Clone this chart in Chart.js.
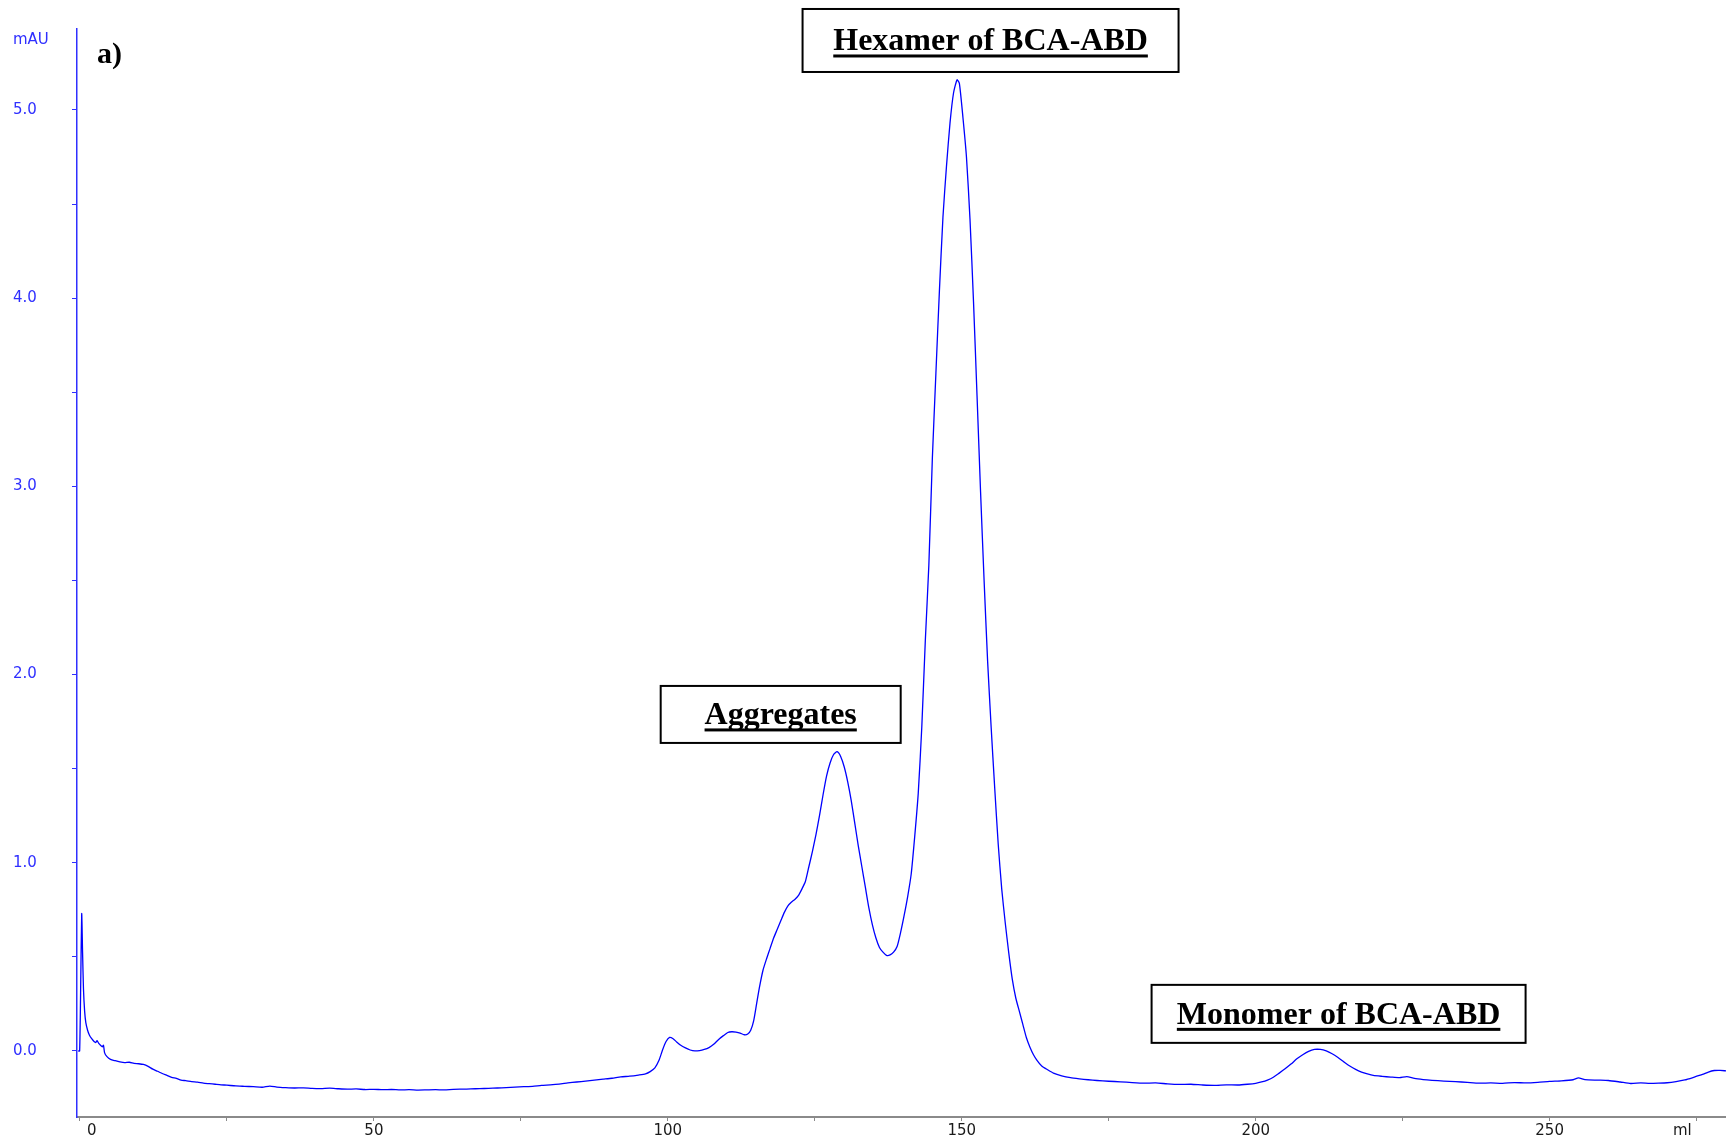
<!DOCTYPE html>
<html>
<head>
<meta charset="utf-8">
<title>Cromatograma BCA-ABD</title>
<script src="https://cdn.jsdelivr.net/npm/chart.js@4.4.1/dist/chart.umd.min.js"></script>
<style>
    html, body { margin: 0; padding: 0; background: #ffffff; }
    canvas { display: block; }
</style>
</head>
<body>
<canvas id="chromatogram" width="1726" height="1143"></canvas>
<script>
// Chromatogram a) - size exclusion run of BCA-ABD

// Elution volume (ml)
const volumeMl = [
    -0.3, -0.05, 0.15, 0.3, 0.45, 0.6, 0.8, 1.0, 1.3, 1.6,
    2.0, 2.4, 2.7, 2.9, 3.2, 3.5, 3.8, 4.0, 4.2, 4.6,
    5.2, 6.0, 6.8, 7.6, 8.4, 9.2, 10.0, 10.8, 11.6, 12.4,
    13.2, 14.0, 14.8, 15.6, 16.4, 17.2, 18.0, 19.0, 20.0, 21.0,
    22.0, 23.0, 24.0, 25.0, 26.5, 28.0, 29.5, 31.0, 32.3, 33.5,
    35.0, 36.5, 38.0, 39.5, 41.0, 42.5, 44.0, 45.5, 47.0, 48.5,
    50.0, 51.5, 53.0, 54.5, 56.0, 57.5, 59.0, 60.5, 62.0, 63.5,
    65.0, 66.5, 68.0, 69.5, 71.0, 72.5, 74.0, 75.5, 77.0, 78.5,
    80.0, 81.5, 83.0, 84.5, 86.0, 87.5, 89.0, 90.5, 92.0, 93.5,
    95.0, 96.2, 97.0, 97.8, 98.5, 99.1, 99.7, 100.3, 100.9, 101.5,
    102.2, 103.0, 103.8, 104.6, 105.4, 106.2, 107.0, 107.8, 108.6, 109.4,
    110.2, 110.9, 111.6, 112.3, 113.0, 113.6, 114.1, 114.6, 115.1, 115.6,
    116.2, 116.8, 117.4, 118.0, 118.6, 119.2, 119.8, 120.4, 121.0, 121.6,
    122.2, 122.8, 123.4, 124.0, 124.6, 125.2, 125.8, 126.4, 127.0, 127.6,
    128.2, 128.8, 129.4, 130.0, 130.6, 131.2, 131.8, 132.4, 133.0, 133.6,
    134.2, 134.8, 135.4, 136.0, 136.6, 137.2, 137.8, 138.4, 139.0, 139.6,
    140.2, 140.8, 141.4, 142.0, 142.6, 143.2, 143.8, 144.4, 145.0, 145.6,
    146.2, 146.8, 147.4, 148.0, 148.6, 149.2, 149.6, 150.2, 150.8, 151.4,
    152.0, 152.6, 153.2, 153.8, 154.4, 155.0, 155.6, 156.2, 156.8, 157.4,
    158.0, 158.6, 159.2, 159.8, 160.4, 161.0, 161.6, 162.2, 162.8, 163.6,
    164.6, 165.6, 167.0, 168.5, 170.0, 171.5, 173.0, 175.0, 177.0, 179.0,
    181.0, 183.0, 185.0, 187.0, 189.0, 191.0, 193.0, 195.0, 197.0, 198.6,
    200.0, 201.0, 202.0, 203.0, 204.0, 205.0, 206.0, 207.0, 208.0, 209.0,
    210.0, 211.0, 212.0, 213.0, 214.0, 215.0, 216.0, 217.0, 218.0, 219.0,
    220.0, 221.5, 223.0, 224.5, 225.7, 227.0, 228.5, 230.0, 232.0, 234.0,
    236.0, 238.0, 240.0, 242.0, 244.0, 246.0, 248.0, 250.0, 252.0, 254.0,
    254.9, 256.0, 258.0, 260.0, 262.0, 263.8, 265.5, 267.0, 268.5, 270.0,
    271.5, 273.0, 274.5, 276.0, 277.0, 278.0, 279.0, 280.0
];

// UV absorbance (mAU)
const absorbanceMau = [
    0.0, 0.0, 0.40, 0.73, 0.52, 0.33, 0.21, 0.15, 0.11, 0.085,
    0.065, 0.05, 0.045, 0.055, 0.04, 0.03, 0.022, 0.03, -0.01, -0.03,
    -0.045, -0.052, -0.058, -0.062, -0.06, -0.066, -0.068, -0.072, -0.082, -0.097,
    -0.108, -0.12, -0.13, -0.14, -0.146, -0.155, -0.158, -0.163, -0.166, -0.171,
    -0.174, -0.177, -0.18, -0.182, -0.186, -0.188, -0.19, -0.193, -0.187, -0.192,
    -0.195, -0.197, -0.196, -0.199, -0.2, -0.198, -0.201, -0.203, -0.202, -0.205,
    -0.204, -0.206, -0.205, -0.207, -0.206, -0.208, -0.207, -0.206, -0.207, -0.204,
    -0.203, -0.202, -0.2, -0.199, -0.197, -0.195, -0.192, -0.19, -0.188, -0.183,
    -0.18, -0.176, -0.17, -0.165, -0.16, -0.155, -0.15, -0.145, -0.138, -0.134,
    -0.128, -0.122, -0.11, -0.09, -0.05, 0.005, 0.05, 0.072, 0.065, 0.048,
    0.03, 0.016, 0.005, 0.0, 0.002, 0.008, 0.018, 0.035, 0.06, 0.08,
    0.098, 0.102, 0.1, 0.095, 0.086, 0.09, 0.11, 0.16, 0.25, 0.34,
    0.43, 0.49, 0.545, 0.6, 0.645, 0.69, 0.735, 0.77, 0.79, 0.805,
    0.825, 0.86, 0.9, 0.98, 1.06, 1.15, 1.25, 1.36, 1.46, 1.53,
    1.575, 1.59, 1.565, 1.51, 1.43, 1.33, 1.21, 1.09, 0.98, 0.87,
    0.76, 0.67, 0.6, 0.55, 0.525, 0.508, 0.51, 0.525, 0.555, 0.63,
    0.72, 0.82, 0.94, 1.14, 1.37, 1.72, 2.18, 2.58, 3.15, 3.6,
    4.04, 4.43, 4.7, 4.93, 5.09, 5.16, 5.14, 4.96, 4.75, 4.42,
    3.98, 3.48, 2.97, 2.5, 2.07, 1.72, 1.4, 1.1, 0.86, 0.68,
    0.52, 0.38, 0.28, 0.21, 0.14, 0.07, 0.02, -0.02, -0.05, -0.08,
    -0.1, -0.118, -0.132, -0.142, -0.148, -0.153, -0.157, -0.161, -0.164, -0.168,
    -0.171, -0.17, -0.175, -0.178, -0.177, -0.181, -0.183, -0.18, -0.181, -0.177,
    -0.172, -0.165, -0.155, -0.14, -0.118, -0.095, -0.07, -0.042, -0.02, -0.002,
    0.008, 0.008, 0.0, -0.015, -0.035, -0.058, -0.08, -0.098, -0.112, -0.122,
    -0.13, -0.135, -0.139, -0.142, -0.136, -0.146, -0.152, -0.156, -0.16, -0.163,
    -0.167, -0.171, -0.17, -0.172, -0.168, -0.17, -0.167, -0.162, -0.159, -0.153,
    -0.143, -0.152, -0.155, -0.157, -0.165, -0.173, -0.17, -0.172, -0.171, -0.169,
    -0.163, -0.154, -0.14, -0.125, -0.112, -0.104, -0.103, -0.106
];

// Peak labels (anchored in ml / mAU)
const peakLabels = [
    { text: 'Hexamer of BCA-ABD', x: 154.9, y: 5.369, w: 376, h: 63 },
    { text: 'Aggregates', x: 119.2, y: 1.788, w: 240, h: 57 },
    { text: 'Monomer of BCA-ABD', x: 214.1, y: 0.197, w: 374, h: 58 }
];

const panelLetter = { text: 'a)', x: 2.9, y: 5.25 };

const blueAxis = '#2f2fff';
const grayAxis = '#8a8a8a';
const tickFont = { family: '"DejaVu Sans", Verdana, sans-serif', size: 15 };

// Textos extras: unidade do eixo y, letra do painel e caixas dos picos
const annotationPlugin = {
    id: 'annotations',
    afterDraw(chart) {
        const ctx = chart.ctx;
        const xs = chart.scales.x;
        const ys = chart.scales.y;
        ctx.save();

        // unidade mAU no topo do eixo y
        ctx.fillStyle = blueAxis;
        ctx.font = '15px "DejaVu Sans", Verdana, sans-serif';
        ctx.textAlign = 'left';
        ctx.textBaseline = 'middle';
        ctx.fillText('mAU', ys.left, chart.chartArea.top + 11);

        // letra do painel
        ctx.fillStyle = '#000';
        ctx.font = 'bold 30px "Liberation Serif", "Times New Roman", serif';
        ctx.textBaseline = 'alphabetic';
        ctx.fillText(panelLetter.text, xs.getPixelForValue(panelLetter.x), ys.getPixelForValue(panelLetter.y));

        // caixas com texto sublinhado
        ctx.font = 'bold 32px "Liberation Serif", "Times New Roman", serif';
        ctx.textAlign = 'center';
        peakLabels.forEach(label => {
            const cx = xs.getPixelForValue(label.x);
            const cy = ys.getPixelForValue(label.y);
            ctx.fillStyle = '#fff';
            ctx.fillRect(cx - label.w / 2, cy - label.h / 2, label.w, label.h);
            ctx.strokeStyle = '#000';
            ctx.lineWidth = 2;
            ctx.strokeRect(cx - label.w / 2, cy - label.h / 2, label.w, label.h);

            const baseline = cy + 10;
            ctx.fillStyle = '#000';
            ctx.fillText(label.text, cx, baseline);
            const tw = ctx.measureText(label.text).width;
            ctx.fillRect(cx - tw / 2, baseline + 4, tw, 3);
        });

        ctx.restore();
    }
};

const ctx = document.getElementById('chromatogram').getContext('2d');

new Chart(ctx, {
    type: 'line',
    data: {
        datasets: [{
            label: 'UV',
            data: volumeMl.map((v, i) => ({ x: v, y: absorbanceMau[i] })),
            borderColor: '#0000ff',
            borderWidth: 1.3,
            pointRadius: 0,
            tension: 0.2,
            fill: false
        }]
    },
    options: {
        responsive: false,
        animation: false,
        layout: {
            padding: { left: 13, top: 29, right: 0, bottom: 0 }
        },
        plugins: {
            legend: { display: false },
            tooltip: { enabled: false }
        },
        scales: {
            x: {
                type: 'linear',
                min: -0.5,
                max: 280,
                afterFit: scale => { scale.height = 26; },
                border: { color: grayAxis, width: 2 },
                grid: {
                    drawOnChartArea: false,
                    drawTicks: true,
                    tickLength: 4,
                    tickColor: grayAxis
                },
                ticks: {
                    stepSize: 25,
                    includeBounds: false,
                    autoSkip: false,
                    maxRotation: 0,
                    padding: 1,
                    color: '#1a1a1a',
                    font: tickFont,
                    callback: function(value) {
                        // o rótulo 0 fica um pouco à direita e a unidade um pouco à esquerda
                        if (value === 0) return '     0';
                        if (value === 275) return 'ml      ';
                        return value % 50 === 0 ? String(value) : '';
                    }
                }
            },
            y: {
                min: -0.351,
                max: 5.43,
                afterFit: scale => { scale.width = 64; },
                border: { color: blueAxis, width: 1.5 },
                grid: {
                    drawOnChartArea: false,
                    drawTicks: true,
                    tickLength: 5,
                    tickColor: blueAxis
                },
                ticks: {
                    stepSize: 0.5,
                    includeBounds: false,
                    autoSkip: false,
                    crossAlign: 'far',
                    color: blueAxis,
                    font: tickFont,
                    callback: function(value) {
                        return Math.abs(value % 1) < 1e-6 ? value.toFixed(1) : '';
                    }
                }
            }
        }
    },
    plugins: [annotationPlugin]
});
</script>
</body>
</html>
